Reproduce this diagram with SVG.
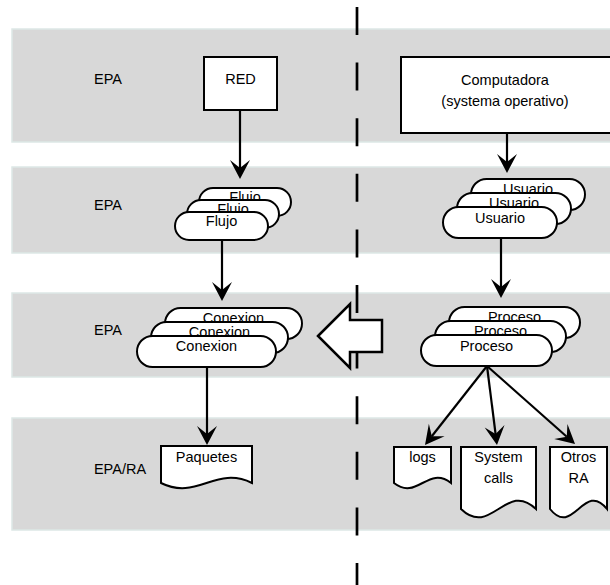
<svg xmlns="http://www.w3.org/2000/svg" width="610" height="585" viewBox="0 0 610 585">
<style>
.band{fill:#d8d8d8;stroke:#dde8e6;stroke-width:1.5}
.t{font-family:"Liberation Sans",Arial,sans-serif;font-size:14.5px;fill:#000;text-anchor:middle}
.shape{fill:#fff;stroke:#000;stroke-width:2}
.conn{fill:none;stroke:#000;stroke-width:2.2}
.sep{fill:none;stroke:#000;stroke-width:2.7;stroke-dasharray:28 27.6}
</style>
<defs>
<marker id="ah" viewBox="-9 -10.5 21 21" markerWidth="21" markerHeight="21" refX="0" refY="0" orient="auto" markerUnits="userSpaceOnUse" overflow="visible">
<path d="M11,0 L-8,-10 L0,0 L-8,10 Z" fill="#000"/>
</marker>
</defs>
<g id="bands">
<rect class="band" x="12" y="29" width="610" height="113"/>
<rect class="band" x="12" y="167" width="610" height="86"/>
<rect class="band" x="12" y="293" width="610" height="84"/>
<rect class="band" x="12" y="418" width="610" height="112"/>
<text class="t" x="108" y="84">EPA</text>
<text class="t" x="108" y="210">EPA</text>
<text class="t" x="108" y="335">EPA</text>
<text class="t" x="120" y="474">EPA/RA</text>
</g>
<line class="sep" x1="357" y1="7" x2="357" y2="585"/>
<g id="bigArrow">
<polygon points="318,336 350,304 350,320 382,320 382,352 350,352 350,368" fill="#fff" stroke="#000" stroke-width="2.5" stroke-linejoin="miter"/>
</g>
<g id="red">
<rect class="shape" x="204" y="57" width="73" height="53"/>
<text class="t" x="240.5" y="84">RED</text>
</g>
<g id="computadora">
<rect class="shape" x="401" y="57" width="215" height="76"/>
<text class="t" x="505" y="85">Computadora</text>
<text class="t" x="505" y="106">(systema operativo)</text>
</g>
<g id="flujo">
<rect class="shape" x="199" y="188" width="92" height="28" rx="14"/>
<text class="t" x="245" y="201.5">Flujo</text>
<rect class="shape" x="187" y="200" width="92" height="28" rx="14"/>
<text class="t" x="233" y="213.5">Flujo</text>
<rect class="shape" x="175" y="212" width="93" height="28" rx="14"/>
<text class="t" x="221.5" y="225.5">Flujo</text>
</g>
<g id="conexion">
<rect class="shape" x="165" y="308" width="137" height="31" rx="15.5"/>
<text class="t" x="233.5" y="322.5">Conexion</text>
<rect class="shape" x="151" y="322" width="137" height="31" rx="15.5"/>
<text class="t" x="219.5" y="336.5">Conexion</text>
<rect class="shape" x="137" y="336" width="139" height="31" rx="15.5"/>
<text class="t" x="206.5" y="351">Conexion</text>
</g>
<g id="usuario">
<rect class="shape" x="471" y="179" width="114" height="31" rx="15.5"/>
<text class="t" x="528" y="194">Usuario</text>
<rect class="shape" x="457" y="193" width="114" height="31" rx="15.5"/>
<text class="t" x="514" y="208">Usuario</text>
<rect class="shape" x="443" y="207" width="114" height="31" rx="15.5"/>
<text class="t" x="500" y="222.5">Usuario</text>
</g>
<g id="proceso">
<rect class="shape" x="449" y="307" width="131" height="31" rx="15.5"/>
<text class="t" x="514.5" y="322">Proceso</text>
<rect class="shape" x="435" y="321" width="131" height="31" rx="15.5"/>
<text class="t" x="500.5" y="336">Proceso</text>
<rect class="shape" x="421" y="335" width="131" height="31" rx="15.5"/>
<text class="t" x="486.5" y="350.5">Proceso</text>
</g>
<g id="paquetes">
<path class="shape" d="M161,446 H252 V483 C215.6,465 197.4,501 161,483 Z"/>
<text class="t" x="206.5" y="462">Paquetes</text>
</g>
<g id="logs">
<path class="shape" d="M394,447 H451 V483 C428,465 417,501 394,483 Z"/>
<text class="t" x="422.5" y="462">logs</text>
</g>
<g id="syscalls">
<path class="shape" d="M461,447 H536 V509 C506,480 491,538 461,509 Z"/>
<text class="t" x="498.5" y="462">System</text>
<text class="t" x="498.5" y="483">calls</text>
</g>
<g id="otros">
<path class="shape" d="M550,447 H607 V509 C584,480 573,538 550,509 Z"/>
<text class="t" x="578.5" y="462">Otros</text>
<text class="t" x="578.5" y="483">RA</text>
</g>
<g id="connectors">
<path class="conn" d="M240,111 V168" marker-end="url(#ah)"/>
<path class="conn" d="M222,240 V290" marker-end="url(#ah)"/>
<path class="conn" d="M207,367 V434" marker-end="url(#ah)"/>
<path class="conn" d="M507,133 V162" marker-end="url(#ah)"/>
<path class="conn" d="M501,238 V287" marker-end="url(#ah)"/>
<path class="conn" d="M487,366 L431.8,436.3" marker-end="url(#ah)"/>
<path class="conn" d="M487,366 L495.6,434.1" marker-end="url(#ah)"/>
<path class="conn" d="M487,366 L566.8,436.7" marker-end="url(#ah)"/>
</g>
</svg>
